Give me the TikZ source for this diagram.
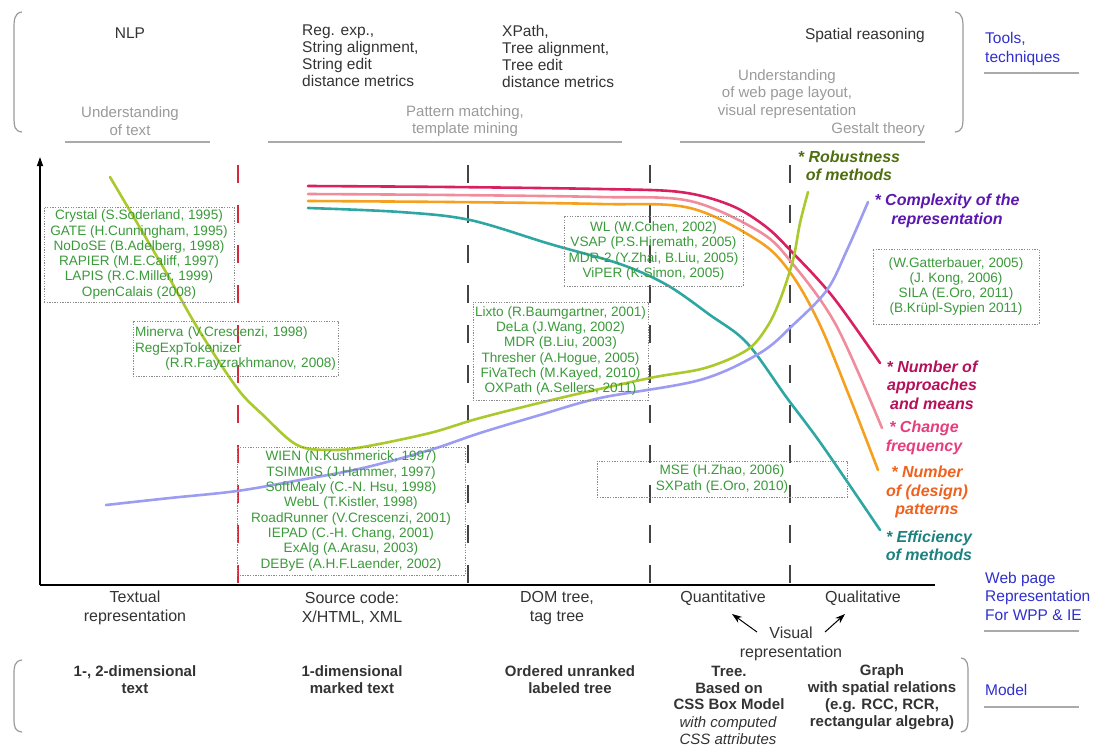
\documentclass[tikz,border=0pt]{standalone}
\usepackage{fontspec}
\setmainfont{Liberation Sans}
\usetikzlibrary{arrows.meta}

\definecolor{cTxt}{HTML}{333333}
\definecolor{cGray}{HTML}{9A9A9A}
\definecolor{cRule}{HTML}{AAAAAA}
\definecolor{cBlue}{HTML}{2F2FCF}
\definecolor{cRef}{HTML}{3A9A3A}
\definecolor{cBox}{HTML}{8A8A8A}
\definecolor{cRed}{HTML}{D42A3C}
\definecolor{cDash}{HTML}{444444}
% curve colours
\definecolor{cLime}{HTML}{A9C92C}
\definecolor{cLav}{HTML}{9C9CF2}
\definecolor{cCrim}{HTML}{D92060}
\definecolor{cPink}{HTML}{F08C9C}
\definecolor{cOrange}{HTML}{F5A01E}
\definecolor{cTeal}{HTML}{2EA6A2}
% curve label colours
\definecolor{lRob}{HTML}{4E6E10}
\definecolor{lCom}{HTML}{5B18B0}
\definecolor{lApp}{HTML}{B5105A}
\definecolor{lChg}{HTML}{E63E7C}
\definecolor{lPat}{HTML}{F0601E}
\definecolor{lEff}{HTML}{1E8080}

\tikzset{
  tool/.style={font=\fontsize{15.5}{17}\selectfont, text=cTxt, align=left, inner sep=0pt},
  goal/.style={font=\fontsize{15}{17.5}\selectfont, text=cGray, align=center, inner sep=0pt},
  repr/.style={font=\fontsize{16}{18.5}\selectfont, text=cTxt, align=center, inner sep=0pt},
  model/.style={font=\fontsize{15}{16.8}\selectfont\bfseries, text=cTxt, align=center, inner sep=0pt},
  side/.style={font=\fontsize{15.5}{18.5}\selectfont, text=cBlue, align=left, inner sep=0pt, anchor=west},
  refbox/.style={draw=cBox, line width=0.8pt, dash pattern=on 1.3pt off 1.3pt,
    text=cRef, font=\fontsize{13.6}{15.3}\selectfont, align=center, inner sep=0pt},
  crv/.style={line width=2.6pt, line cap=round},
  crvlabel/.style={font=\fontsize{16}{18.5}\selectfont\bfseries\itshape, align=center, inner sep=0pt},
  divider/.style={line width=1.5pt, dash pattern=on 18pt off 22pt},
  rule/.style={draw=cRule, line width=1.1pt},
  brace/.style={draw=cGray, line width=1.2pt},
}

\begin{document}
\begin{tikzpicture}[x=1pt,y=-1pt]
\useasboundingbox (0,0) rectangle (1099,749);

% ---------- tools and techniques ----------
\draw[brace] (22,12) .. controls (14,13) and (14,20) .. (14,30) -- (14,116) .. controls (14,128) and (15,131) .. (22,132);
\draw[brace] (955,12) .. controls (963,13) and (963,20) .. (963,30) -- (963,116) .. controls (963,128) and (962,131) .. (955,132);

\node[tool] (nlp) at (130,33) {NLP};
\node[tool, anchor=west] (regexp) at (302,56) {Reg. exp.,\\String alignment,\\String edit\\distance metrics};
\node[tool, anchor=west] (xpath) at (502,56) {XPath,\\Tree alignment,\\Tree edit\\distance metrics};
\node[tool, anchor=east] (spatial) at (925,35) {Spatial reasoning};

\node[goal] (undtext) at (130,121) {Understanding\\of text};
\node[goal] (pattern) at (465,121) {Pattern matching,\\template mining};
\node[goal] (undweb) at (787,94) {Understanding\\of web page layout,\\visual representation};
\node[goal, anchor=east] (gestalt) at (925,130) {Gestalt theory};

\draw[rule] (65,142) -- (210,142);
\draw[rule] (268,142) -- (622,142);
\draw[rule] (680,142) -- (925,142);

\node[side] (tools) at (985,49) {Tools,\\techniques};
\draw[rule] (984,73) -- (1079,73);

% ---------- axes ----------
\coordinate (origin) at (40,585);
\coordinate (ytop) at (40,157);
\coordinate (xend) at (935,585);
\draw[line width=1.3pt, -{Triangle[length=9pt,width=6pt]}] (origin) -- (ytop);
\draw[line width=1.3pt] (origin) -- (xend);

% ---------- period dividers ----------
\coordinate (d1t) at (238,165); \coordinate (d1b) at (238,585);
\coordinate (d2t) at (468,165); \coordinate (d2b) at (468,585);
\coordinate (d3t) at (650,165); \coordinate (d3b) at (650,585);
\coordinate (d4t) at (790,165); \coordinate (d4b) at (790,585);
\draw[divider, draw=cRed] (d1t) -- (d1b);
\draw[divider, draw=cDash] (d2t) -- (d2b);
\draw[divider, draw=cDash] (d3t) -- (d3b);
\draw[divider, draw=cDash] (d4t) -- (d4b);

% ---------- trend curves ----------
\draw[crv, cCrim] plot[smooth, tension=0.55] coordinates
  {(308,186) (450,187) (600,189) (680,192) (730,205) (765,226) (792,252) (833,297) (880,363)};
\draw[crv, cPink] plot[smooth, tension=0.55] coordinates
  {(308,194) (450,195) (600,197) (690,201) (760,232) (792,263) (836,325) (882,428)};
\draw[crv, cOrange] plot[smooth, tension=0.55] coordinates
  {(308,201) (450,202) (600,204) (690,208) (760,242) (792,275) (820,325) (850,398) (878,470)};
\draw[crv, cTeal] plot[smooth, tension=0.55] coordinates
  {(308,208) (400,212) (470,220) (550,244) (620,264) (667,285) (710,315) (747,343) (787,398) (822,445) (880,530)};
\draw[crv, cLime] plot[smooth, tension=0.55] coordinates
  {(110,177) (163,267) (197,327) (237,388) (263,415) (297,445) (330,450) (363,447) (430,433) (480,418) (560,398) (650,378) (705,368) (747,350) (767,327) (780,300) (793,260) (800,223) (808,192)};
\draw[crv, cLav] plot[smooth, tension=0.55] coordinates
  {(106,505) (170,498) (237,491) (300,480) (363,468) (430,450) (480,433) (540,415) (600,398) (700,380) (760,353) (793,325) (827,290) (847,250) (868,202)};

% ---------- curve labels ----------
\node[crvlabel, text=lRob] (rob) at (849,166) {* Robustness\\of methods};
\node[crvlabel, text=lCom] (com) at (947,211) {* Complexity of the\\representation};
\node[crvlabel, text=lApp] (app) at (932,385) {* Number of\\approaches\\and means};
\node[crvlabel, text=lChg] (chg) at (924,438) {* Change\\frequency};
\node[crvlabel, text=lPat] (pat) at (927,492) {* Number\\of (design)\\patterns};
\node[crvlabel, text=lEff] (eff) at (929,546) {* Efficiency\\of methods};

% ---------- systems and authors ----------
\node[refbox, minimum width=190pt, minimum height=95pt] (nlpsys) at (139,254.5)
  {Crystal (S.Soderland, 1995)\\GATE (H.Cunningham, 1995)\\NoDoSE (B.Adelberg, 1998)\\RAPIER (M.E.Califf, 1997)\\LAPIS (R.C.Miller, 1999)\\OpenCalais (2008)};
\node[refbox, minimum width=205pt, minimum height=55pt, text width=201pt, align=left] (regsys) at (235.5,348.5)
  {Minerva (V.Crescenzi, 1998)\\RegExpTokenizer\\\hspace*{\fill}(R.R.Fayzrakhmanov, 2008)};
\node[refbox, minimum width=179pt, minimum height=70pt] (visold) at (653.5,251)
  {WL (W.Cohen, 2002)\\VSAP (P.S.Hiremath, 2005)\\MDR-2 (Y.Zhai, B.Liu, 2005)\\ViPER (K.Simon, 2005)};
\node[refbox, minimum width=175pt, minimum height=98pt] (domsys) at (560.5,351)
  {Lixto (R.Baumgartner, 2001)\\DeLa (J.Wang, 2002)\\MDR (B.Liu, 2003)\\Thresher (A.Hogue, 2005)\\FiVaTech (M.Kayed, 2010)\\OXPath (A.Sellers, 2011)};
\node[refbox, minimum width=228pt, minimum height=128pt] (srcsys) at (351,511)
  {WIEN (N.Kushmerick, 1997)\\TSIMMIS (J.Hammer, 1997)\\SoftMealy (C.-N. Hsu, 1998)\\WebL (T.Kistler, 1998)\\RoadRunner (V.Crescenzi, 2001)\\IEPAD (C.-H. Chang, 2001)\\ExAlg (A.Arasu, 2003)\\DEByE (A.H.F.Laender, 2002)};
\node[refbox, minimum width=250pt, minimum height=36pt] (quantsys) at (722,479)
  {MSE (H.Zhao, 2006)\\SXPath (E.Oro, 2010)};
\node[refbox, minimum width=166pt, minimum height=75pt] (qualsys) at (956,286.5)
  {(W.Gatterbauer, 2005)\\(J. Kong, 2006)\\SILA (E.Oro, 2011)\\(B.Krüpl-Sypien 2011)};

% ---------- web page representation ----------
\node[repr] (textual) at (135,608) {Textual\\representation};
\node[repr] (source) at (352,608) {Source code:\\X/HTML, XML};
\node[repr] (dom) at (557,608) {DOM tree,\\tag tree};
\node[repr] (quant) at (723,598) {Quantitative};
\node[repr] (qual) at (863,598) {Qualitative};
\node[repr] (visual) at (791,644) {Visual\\representation};
\coordinate (visL) at (757,632);
\coordinate (visR) at (825,632);
\coordinate (quantTip) at (732,614);
\coordinate (qualTip) at (845,614);
\draw[line width=1pt, -{Stealth[length=10pt,width=7pt]}] (visL) -- (quantTip);
\draw[line width=1pt, -{Stealth[length=10pt,width=7pt]}] (visR) -- (qualTip);

\node[side] (wpr) at (985,596) {Web page\\Representation\\For WPP \& IE};
\draw[rule] (984,631) -- (1079,631);

% ---------- models ----------
\draw[brace] (22,660) .. controls (14,661) and (14,667) .. (14,675) -- (14,718) .. controls (14,728) and (15,731) .. (22,732);
\draw[brace] (961,658) .. controls (968,659) and (968,665) .. (968,673) -- (968,718) .. controls (968,728) and (967,731) .. (961,732);

\node[model] (m1) at (135,680) {1-, 2-dimensional\\text};
\node[model] (m2) at (352,680) {1-dimensional\\marked text};
\node[model] (m3) at (570,680) {Ordered unranked\\labeled tree};
\node[model] (m4) at (729,688) {Tree.\\Based on\\CSS Box Model};
\node[model, font=\fontsize{15}{16.8}\selectfont\itshape] (m4b) at (728,731) {with computed\\CSS attributes};
\node[model] (m5) at (882,697) {Graph\\with spatial relations\\(e.g. RCC, RCR,\\rectangular algebra)};

\node[side] (modellbl) at (985,690) {Model};
\draw[rule] (984,707) -- (1079,707);
\end{tikzpicture}
\end{document}
